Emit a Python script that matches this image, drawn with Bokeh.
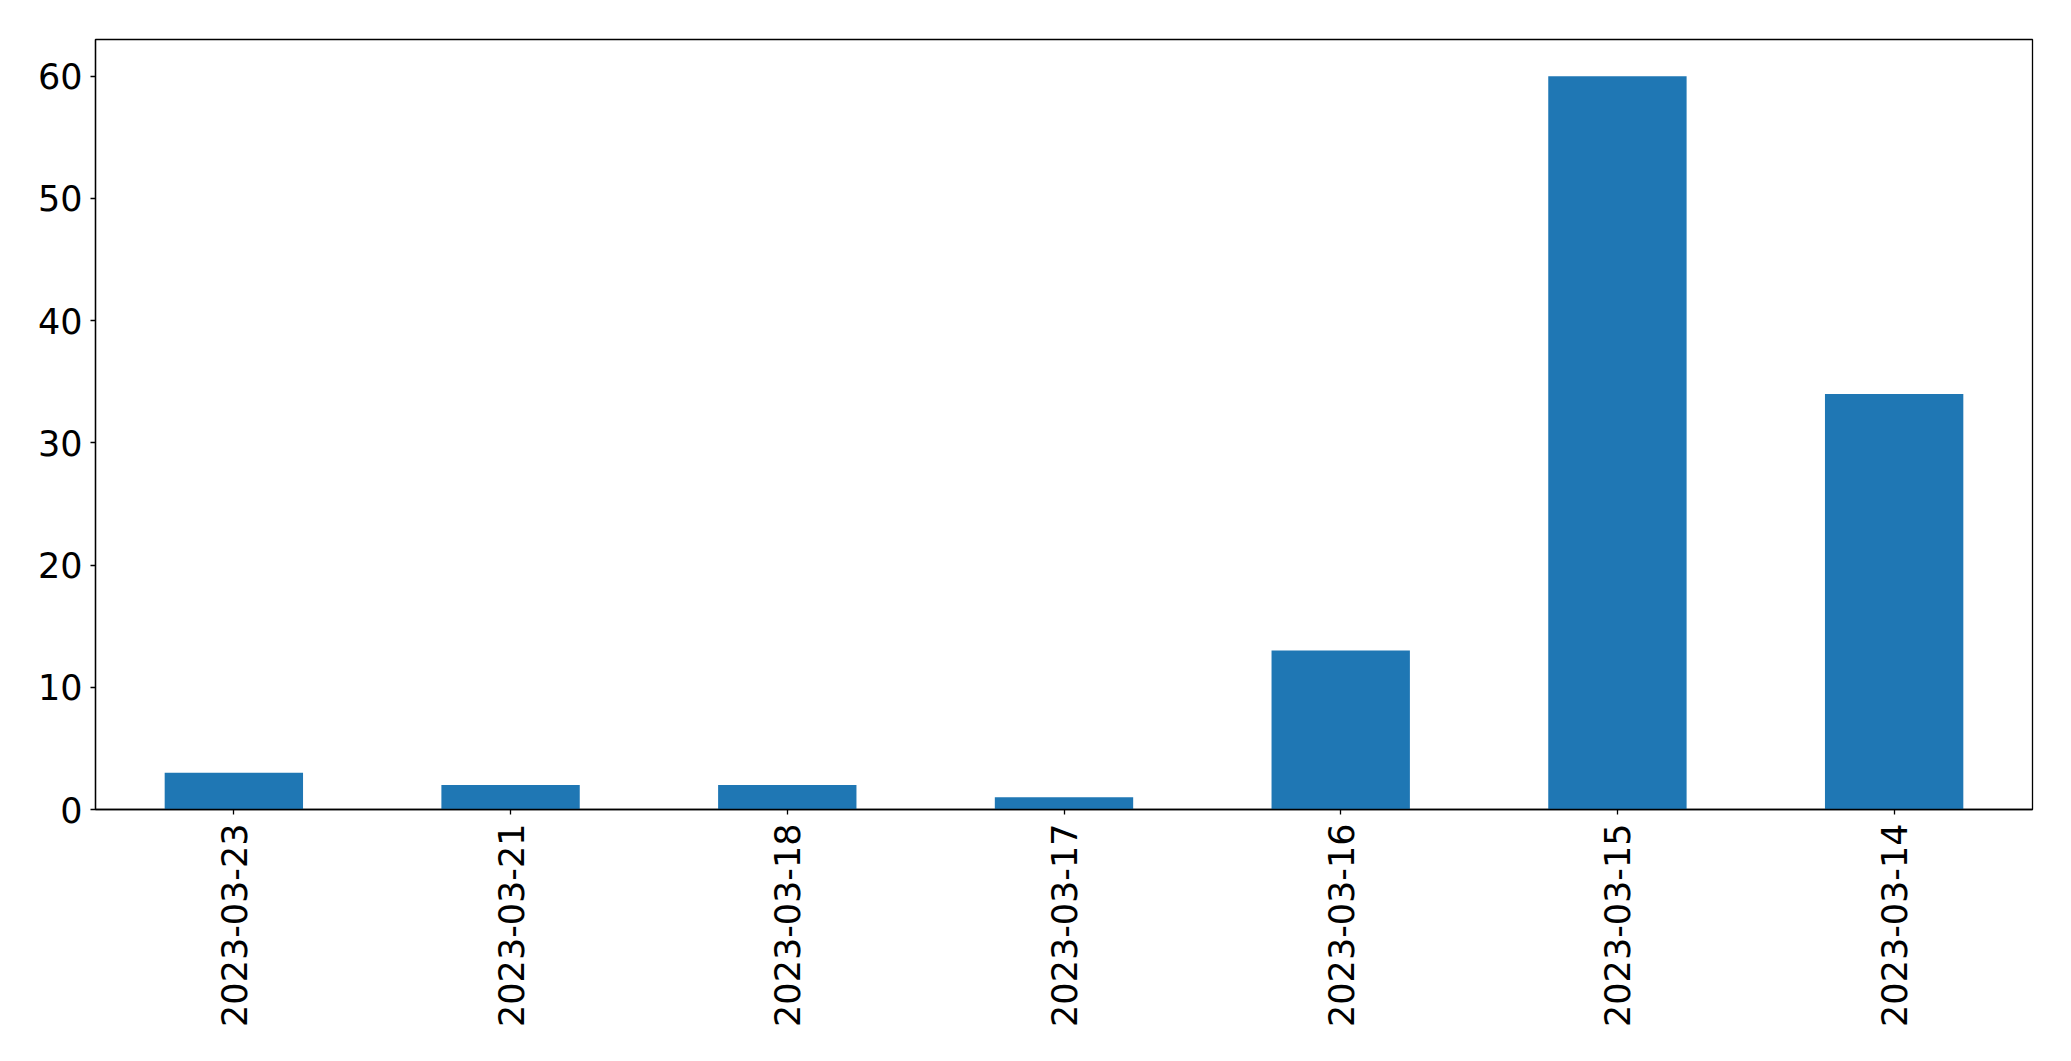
from bokeh.plotting import figure
from bokeh.models import FactorRange, Range1d, ColumnDataSource, FixedTicker
from bokeh.embed import file_html
from bokeh.resources import INLINE

dates = ["2023-03-23", "2023-03-21", "2023-03-18", "2023-03-17", "2023-03-16", "2023-03-15", "2023-03-14"]
counts = [3, 2, 2, 1, 13, 60, 34]
y_ticks = [0, 10, 20, 30, 40, 50, 60]

src = ColumnDataSource(dict(x=dates, top=counts))

p = figure(x_range=FactorRange(*dates), y_range=Range1d(0, 63),
           width=2063, height=1053, output_backend="svg", toolbar_location=None,
           min_border_left=95, min_border_right=31, min_border_top=39, min_border_bottom=244)
p.vbar(x="x", top="top", width=0.5, source=src, color="#1f77b4", line_color=None)

p.xgrid.grid_line_color = None
p.ygrid.grid_line_color = None
p.outline_line_color = "black"
p.outline_line_width = 1.3
p.background_fill_color = "white"
p.border_fill_color = "white"

for ax in (p.xaxis[0], p.yaxis[0]):
    ax.axis_line_color = "black"
    ax.axis_line_width = 1.3
    ax.major_tick_line_color = "black"
    ax.major_tick_line_width = 1.3
    ax.major_tick_out = 5
    ax.major_tick_in = 0
    ax.minor_tick_line_color = None
    ax.major_label_text_font = "DejaVu Sans"
    ax.major_label_text_font_size = "35px"
    ax.major_label_text_color = "black"

p.yaxis.ticker = FixedTicker(ticks=y_ticks)
p.yaxis.major_label_standoff = 8
p.xaxis.major_label_orientation = 1.5707963
p.xaxis.major_label_standoff = 9

open("out.html", "w").write(file_html(p, INLINE))
